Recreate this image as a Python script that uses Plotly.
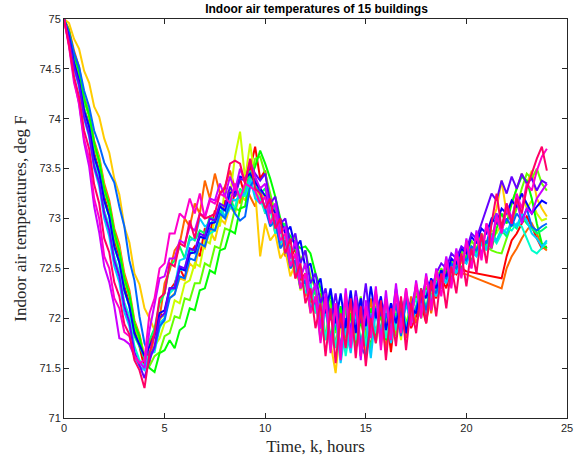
import numpy as np
import plotly.graph_objects as go

# Indoor air temperature (deg F) of each building, sampled every 15 minutes from 0 to 24 h
b01 = [75.00, 74.85, 74.60, 74.42, 74.10, 73.95, 73.66, 73.48, 73.22, 73.05, 72.78, 72.62, 72.32, 72.15, 71.88, 71.72, 71.50,
       71.75, 71.85, 72.05, 72.02, 72.28, 72.35, 72.50, 72.40, 72.65, 72.72, 72.62, 72.90, 72.85, 73.08, 72.95, 73.18, 73.10, 73.25, 73.40, 73.22, 73.50, 73.72,
       73.40, 73.48, 73.15, 73.10, 72.85, 72.92, 72.60, 72.70, 72.38, 72.45, 72.15, 72.30,
       71.85, 72.20, 71.75, 72.05, 71.68, 72.15, 71.80, 72.22, 71.62, 71.95, 71.70, 72.18, 71.78, 72.08, 71.66, 72.12, 71.84, 72.20, 71.90, 72.02, 72.15, 71.95, 72.28, 72.20,
       72.40, 72.30, 72.52, 72.44, 72.50, 72.47, 72.46, 72.45, 72.44, 72.43, 72.42, 72.41, 72.40, 72.62, 72.78, 72.85, 72.95, 73.02, 72.92, 72.80, 72.70, 72.72]
b02 = [75.00, 74.90, 74.68, 74.52, 74.22, 74.06, 73.78, 73.62, 73.35, 73.18, 72.90, 72.74, 72.45, 72.28, 71.98, 71.84, 71.62,
       71.55, 71.85, 72.00, 72.35, 72.48, 72.68, 72.75, 73.00, 72.92, 73.15, 73.05, 73.38, 73.20, 73.45, 73.25, 73.32, 73.48, 73.30, 73.15, 73.35, 73.22, 73.12,
       73.32, 73.05, 73.10, 72.85, 72.92, 72.62, 72.70, 72.40, 72.50, 72.22, 72.35, 72.05,
       72.25, 71.80, 72.12, 71.72, 72.08, 71.85, 72.18, 71.70, 72.02, 71.78, 72.20, 71.82, 72.05, 71.68, 72.15, 71.88, 72.10, 71.80, 72.22, 71.95, 72.10, 72.30, 72.05, 72.35,
       72.30, 72.52, 72.40, 72.48, 72.45, 72.44, 72.42, 72.40, 72.38, 72.36, 72.34, 72.32, 72.30, 72.50, 72.62, 72.70, 72.80, 72.88, 72.95, 72.85, 72.72, 72.68]
b03 = [75.00, 74.96, 74.80, 74.70, 74.48, 74.36, 74.12, 74.02, 73.80, 73.66, 73.40, 73.24, 72.92, 72.76, 72.45, 72.34, 72.10,
       72.00, 71.88, 71.98, 72.05, 72.20, 72.25, 72.40, 72.38, 72.55, 72.50, 72.75, 72.70, 72.88, 72.78, 73.00, 72.95, 73.12, 73.05, 73.25, 73.18, 73.35, 73.28,
       72.62, 72.95, 72.78, 72.85, 72.60, 72.68, 72.42, 72.55, 72.30, 72.38, 72.10, 72.22,
       71.90, 72.15, 71.75, 71.45, 71.95, 71.70, 72.10, 71.80, 72.05, 71.65, 71.92, 72.18, 71.78, 72.00, 71.85, 72.12, 71.92, 72.25, 72.00, 72.30, 72.10, 72.38, 72.25, 72.45,
       72.35, 72.55, 72.48, 72.62, 72.55, 72.72, 72.65, 72.80, 72.75, 72.90, 72.95, 73.10, 73.38, 73.05, 73.15, 73.30, 73.45, 73.35, 73.48, 73.20, 73.10, 73.02]
b04 = [75.00, 74.86, 74.62, 74.48, 74.20, 74.04, 73.75, 73.60, 73.30, 73.14, 72.85, 72.70, 72.40, 72.24, 71.95, 71.82, 71.62,
       71.60, 71.72, 71.80, 71.95, 71.98, 72.18, 72.15, 72.35, 72.38, 72.55, 72.52, 72.78, 72.75, 73.00, 72.92, 73.30, 73.22, 73.62, 73.87, 73.40, 73.75, 73.38,
       73.15, 73.25, 72.95, 73.00, 72.72, 72.80, 72.50, 72.58, 72.28, 72.40, 72.05, 72.18,
       71.82, 72.12, 71.70, 72.05, 71.62, 71.98, 71.75, 72.15, 71.68, 72.02, 71.80, 72.20, 71.72, 72.08, 71.85, 72.12, 71.78, 72.22, 71.95, 72.10, 72.28, 72.05, 72.35, 72.22,
       72.45, 72.38, 72.55, 72.50, 72.65, 72.58, 72.72, 72.68, 72.80, 72.75, 72.88, 72.85, 72.95, 73.05, 73.00, 73.15, 73.25, 73.10, 73.18, 73.05, 72.98, 73.00]
b05 = [75.00, 74.86, 74.62, 74.46, 74.18, 74.02, 73.72, 73.56, 73.28, 73.12, 72.82, 72.66, 72.38, 72.22, 71.92, 71.78, 71.60,
       71.52, 71.62, 71.66, 71.82, 71.85, 72.02, 72.00, 72.20, 72.18, 72.35, 72.35, 72.55, 72.52, 72.72, 72.70, 72.90, 72.88, 73.10, 73.08, 73.32, 73.35, 73.60,
       73.62, 73.45, 73.25, 73.05, 72.90, 72.95, 72.75, 72.82, 72.58, 72.68, 72.42, 72.30,
       72.05, 71.78, 72.18, 71.85, 72.10, 71.72, 72.02, 71.88, 72.22, 71.80, 72.08, 71.75, 72.15, 71.90, 72.02, 71.82, 72.18, 71.95, 72.12, 72.25, 72.05, 72.32, 72.18, 72.40,
       72.50, 72.42, 72.58, 72.52, 72.68, 72.60, 72.78, 72.70, 72.85, 72.72, 72.68, 72.66, 72.65, 72.80, 72.95, 73.10, 73.30, 73.45, 73.40, 73.50, 73.35, 73.28]
b06 = [75.00, 74.88, 74.64, 74.48, 74.20, 74.04, 73.76, 73.58, 73.30, 73.14, 72.86, 72.68, 72.40, 72.24, 71.95, 71.82, 71.58,
       71.50, 71.46, 71.65, 71.68, 71.78, 71.70, 71.88, 71.92, 72.10, 72.08, 72.28, 72.30, 72.48, 72.45, 72.68, 72.70, 72.88, 72.85, 73.10, 73.12, 73.40, 73.52,
       73.68, 73.55, 73.40, 73.22, 73.00, 72.90, 72.82, 72.75, 72.70, 72.72, 72.65, 72.45,
       72.30, 72.05, 72.25, 71.88, 72.12, 71.80, 72.05, 71.70, 71.98, 71.75, 72.10, 71.82, 72.05, 71.78, 72.00, 71.90, 72.15, 71.85, 72.08, 72.22, 72.00, 72.30, 72.15, 72.38,
       72.30, 72.48, 72.40, 72.55, 72.50, 72.62, 72.58, 72.70, 72.65, 72.78, 72.70, 72.90, 73.05, 72.95, 73.15, 73.30, 73.42, 73.38, 73.20, 72.95, 72.75, 72.70]
b07 = [75.00, 74.82, 74.56, 74.38, 74.10, 73.92, 73.62, 73.46, 73.18, 73.02, 72.72, 72.56, 72.28, 72.12, 71.82, 71.72, 71.60,
       71.78, 71.90, 72.15, 72.25, 72.52, 72.58, 72.72, 72.60, 72.82, 72.78, 72.88, 72.85, 73.02, 72.98, 73.08, 73.02, 73.22, 73.08, 73.30, 73.22, 73.48, 73.32,
       73.25, 73.30, 73.05, 73.12, 72.88, 72.95, 72.65, 72.72, 72.42, 72.55, 72.18, 72.28,
       71.95, 72.20, 71.80, 72.08, 71.70, 72.12, 71.85, 72.18, 71.75, 72.00, 71.68, 72.12, 71.88, 72.15, 71.78, 72.05, 71.92, 72.25, 71.98, 72.12, 72.30, 72.10, 72.38, 72.28,
       72.48, 72.40, 72.55, 72.50, 72.62, 72.58, 72.72, 72.65, 72.78, 72.70, 72.85, 72.78, 72.88, 72.82, 72.95, 72.90, 73.02, 72.95, 72.90, 72.85, 72.88, 72.92]
b08 = [75.00, 74.80, 74.52, 74.34, 74.02, 73.86, 73.55, 73.40, 73.08, 72.92, 72.62, 72.46, 72.16, 72.02, 71.72, 71.58, 71.52,
       71.65, 71.66, 71.90, 72.00, 72.25, 72.30, 72.48, 72.50, 72.68, 72.65, 72.82, 72.80, 72.85, 72.88, 73.05, 73.02, 73.10, 73.12, 73.28, 73.22, 73.38, 73.25,
       73.20, 73.05, 73.12, 72.85, 72.92, 72.65, 72.72, 72.45, 72.52, 72.25, 72.35, 72.05,
       72.20, 71.78, 72.10, 71.70, 72.02, 71.62, 71.95, 71.78, 72.10, 71.72, 72.05, 71.85, 72.15, 71.80, 72.08, 71.88, 72.18, 71.92, 72.05, 72.20, 72.12, 72.28, 72.20, 72.35,
       72.45, 72.38, 72.55, 72.48, 72.60, 72.55, 72.70, 72.62, 72.75, 72.68, 72.82, 72.75, 72.85, 72.90, 72.88, 72.95, 72.92, 72.80, 72.68, 72.65, 72.70, 72.76]
b09 = [75.00, 74.78, 74.50, 74.32, 74.00, 73.82, 73.50, 73.32, 73.00, 72.82, 72.52, 72.36, 72.06, 71.92, 71.62, 71.52, 71.48,
       71.62, 71.68, 71.95, 72.00, 72.28, 72.32, 72.58, 72.60, 72.78, 72.80, 73.00, 72.92, 72.95, 72.98, 73.15, 73.00, 73.20, 73.18, 73.22, 73.25, 73.40, 73.20,
       73.15, 73.22, 72.95, 73.02, 72.75, 72.82, 72.55, 72.62, 72.32, 72.40, 72.10, 72.20,
       71.78, 72.10, 71.68, 72.02, 71.55, 71.90, 71.65, 72.05, 71.72, 71.98, 71.60, 72.08, 71.80, 72.12, 71.75, 72.02, 71.85, 72.15, 71.95, 72.08, 72.25, 72.05, 72.30, 72.22,
       72.42, 72.35, 72.52, 72.45, 72.60, 72.55, 72.68, 72.62, 72.75, 72.70, 72.82, 72.78, 72.90, 72.85, 72.98, 72.92, 73.05, 72.98, 72.85, 72.80, 72.72, 72.78]
b10 = [75.00, 74.86, 74.66, 74.52, 74.28, 74.12, 73.88, 73.74, 73.56, 73.46, 73.36, 73.12, 72.92, 72.58, 72.38, 72.02, 71.75,
       71.62, 71.70, 71.92, 71.98, 72.20, 72.24, 72.42, 72.40, 72.60, 72.58, 72.75, 72.72, 72.90, 72.88, 73.05, 73.00, 73.15, 73.05, 72.98, 73.02, 73.32, 73.40,
       73.25, 73.10, 72.92, 72.98, 72.70, 72.78, 72.50, 72.58, 72.30, 72.38, 72.08, 72.18,
       71.90, 72.15, 71.75, 72.05, 71.68, 72.00, 71.80, 72.12, 71.72, 71.62, 71.95, 72.10, 71.78, 72.05, 71.88, 72.15, 71.82, 72.20, 71.98, 72.10, 72.25, 72.08, 72.32, 72.25,
       72.45, 72.40, 72.55, 72.50, 72.62, 72.58, 72.72, 72.68, 72.80, 72.75, 72.95, 73.05, 72.90, 73.00, 72.92, 73.05, 72.98, 73.10, 72.92, 72.88, 72.92, 72.95]
b11 = [75.00, 74.82, 74.56, 74.38, 74.08, 73.92, 73.62, 73.46, 73.18, 73.02, 72.72, 72.56, 72.28, 72.12, 71.85, 71.74, 71.62,
       71.72, 71.82, 72.05, 72.08, 72.30, 72.30, 72.50, 72.48, 72.65, 72.66, 72.82, 72.80, 72.95, 72.96, 73.12, 73.08, 73.26, 73.26, 73.42, 73.40, 73.45, 73.36,
       73.30, 73.22, 73.15, 73.05, 72.98, 72.85, 72.92, 72.70, 72.78, 72.50, 72.55, 72.30,
       72.40, 72.05, 72.30, 71.95, 72.25, 71.90, 72.28, 71.85, 72.20, 71.92, 72.32, 72.00, 72.22, 71.88, 72.15, 71.95, 72.18, 71.85, 72.10, 72.05, 72.28, 72.20, 72.40, 72.30,
       72.48, 72.42, 72.60, 72.55, 72.70, 72.65, 72.82, 72.75, 72.90, 72.85, 73.00, 72.95, 73.10, 73.05, 73.18, 73.12, 73.25, 73.15, 73.05, 73.12, 73.18, 73.15]
b12 = [75.00, 74.80, 74.52, 74.34, 74.02, 73.84, 73.52, 73.36, 73.05, 72.88, 72.58, 72.42, 72.12, 71.96, 71.66, 71.52, 71.40,
       71.58, 71.72, 72.00, 72.05, 72.30, 72.30, 72.52, 72.50, 72.70, 72.68, 72.85, 72.82, 73.00, 72.98, 73.15, 73.12, 73.32, 73.22, 73.40, 73.38, 73.55, 73.45,
       73.38, 73.45, 73.15, 73.22, 72.95, 73.00, 72.75, 72.85, 72.55, 72.68, 72.35, 72.45,
       72.15, 72.30, 71.98, 72.25, 71.90, 72.20, 71.85, 72.28, 71.95, 72.35, 71.92, 72.25, 72.02, 72.18, 71.95, 72.30, 72.00, 72.22, 72.10, 72.32, 72.15, 72.40, 72.28, 72.45,
       72.55, 72.50, 72.65, 72.60, 72.72, 72.68, 72.85, 72.80, 72.95, 73.10, 73.25, 73.18, 73.38, 73.25, 73.42, 73.30, 73.45, 73.35, 73.40, 73.28, 73.38, 73.35]
b13 = [75.00, 74.74, 74.40, 74.14, 73.76, 73.52, 73.12, 72.86, 72.52, 72.36, 72.12, 71.80, 71.78, 71.74, 71.62, 71.56, 71.50,
       71.88, 72.15, 72.40, 72.42, 72.60, 72.60, 72.78, 72.75, 72.92, 72.88, 73.05, 73.02, 73.20, 73.18, 73.35, 73.22, 73.42, 73.28, 73.50, 73.36, 73.58, 73.42,
       73.30, 73.35, 73.05, 73.15, 72.85, 72.92, 72.60, 72.78, 72.40, 72.55, 72.20, 72.35,
       71.90, 72.25, 71.72, 72.15, 71.65, 72.30, 71.80, 72.22, 71.58, 72.18, 71.88, 72.32, 71.75, 72.28, 71.82, 72.35, 71.90, 72.30, 71.95, 72.38, 72.05, 72.45, 72.10, 72.50,
       72.30, 72.62, 72.35, 72.70, 72.42, 72.80, 72.50, 72.88, 72.62, 72.95, 72.75, 73.05, 72.88, 73.15, 73.00, 73.20, 72.95, 73.10, 73.05, 73.20, 73.28, 73.35]
b14 = [75.00, 74.72, 74.36, 74.16, 73.80, 73.60, 73.20, 73.00, 72.62, 72.50, 72.20, 72.10, 71.86, 71.82, 71.62, 71.55, 71.58,
       72.05, 72.20, 72.50, 72.55, 72.85, 72.85, 73.05, 73.00, 73.20, 73.05, 73.25, 73.00, 73.18, 73.15, 73.25, 73.22, 73.15, 73.35, 73.20, 73.35, 73.32, 73.28,
       73.15, 73.22, 72.95, 73.05, 72.78, 72.85, 72.52, 72.65, 72.30, 72.45, 72.05, 72.22,
       71.75, 72.20, 71.65, 72.15, 71.58, 72.25, 71.70, 72.18, 71.62, 72.12, 71.80, 72.28, 71.68, 72.20, 71.78, 72.25, 71.85, 72.30, 71.92, 72.35, 72.00, 72.42, 72.08, 72.48,
       72.22, 72.58, 72.30, 72.65, 72.40, 72.78, 72.50, 72.85, 72.58, 72.95, 72.70, 73.02, 72.85, 73.10, 72.95, 73.25, 73.10, 73.35, 73.28, 73.48, 73.62, 73.70]
b15 = [75.00, 74.74, 74.42, 74.22, 73.88, 73.70, 73.34, 73.15, 72.80, 72.66, 72.36, 72.22, 71.94, 71.84, 71.58, 71.48, 71.30,
       71.65, 71.85, 72.20, 72.25, 72.55, 72.52, 72.75, 72.72, 72.98, 72.80, 73.05, 73.00, 73.02, 73.05, 73.25, 73.30, 73.55, 73.58, 73.55, 73.35, 73.60, 73.30,
       73.25, 73.10, 73.20, 72.90, 73.00, 72.65, 72.80, 72.40, 72.55, 72.15, 72.30, 71.90,
       72.15, 71.62, 72.10, 71.55, 72.05, 71.70, 72.20, 71.60, 72.12, 71.52, 72.00, 71.75, 72.18, 71.58, 72.10, 71.72, 72.22, 71.68, 72.15, 71.85, 72.30, 71.95, 72.38, 72.02,
       72.45, 72.10, 72.52, 72.25, 72.65, 72.32, 72.70, 72.45, 72.85, 72.55, 72.95, 73.25, 72.90, 73.15, 72.95, 73.20, 73.05, 73.30, 73.45, 73.60, 73.72, 73.48]

buildings = [b01, b02, b03, b04, b05, b06, b07, b08, b09, b10, b11, b12, b13, b14, b15]

# hsv(15) line colours, one hue step of 24 degrees per building
colors = ["#ff0000", "#ff6600", "#ffcc00", "#ccff00", "#66ff00", "#00ff00", "#00ff66", "#00ffcc",
          "#00ccff", "#0066ff", "#0000ff", "#6600ff", "#cc00ff", "#ff00cc", "#ff0066"]

x_ticks = [0, 5, 10, 15, 20, 25]
y_ticks = [71, 71.5, 72, 72.5, 73, 73.5, 74, 74.5, 75]

step_h = 0.25
fig = go.Figure()
for i, (vals, col) in enumerate(zip(buildings, colors)):
    if len(vals) != 97:
        raise ValueError(f"building {i + 1} has {len(vals)} samples")
    hours = np.arange(len(vals)) * step_h
    fig.add_trace(go.Scatter(x=hours, y=vals, mode="lines",
                             line=dict(color=col, width=2), name=f"Building {i + 1}",
                             showlegend=False))

axis_col = "#262626"
common = dict(showline=True, linecolor=axis_col, linewidth=1, mirror="allticks",
              ticks="inside", ticklen=5, tickcolor=axis_col, showgrid=False, zeroline=False,
              tickfont=dict(family="Liberation Sans, Arial, sans-serif", size=11, color=axis_col))

left, right, top, bottom = 64, 16, 19, 46
fig.update_layout(
    width=585, height=464,
    margin=dict(l=left, r=right, t=top, b=bottom),
    paper_bgcolor="white", plot_bgcolor="white",
    title=dict(text="<b>Indoor air temperatures of 15 buildings</b>",
               font=dict(family="Liberation Sans, Arial, sans-serif", size=12, color="black"),
               x=(left + (585 - left - right) / 2) / 585, xanchor="center",
               y=1 - 9 / 464, yanchor="middle", yref="container"),
    xaxis=dict(range=[0, 25], tickvals=x_ticks,
               title=dict(text="Time, k, hours", standoff=6,
                          font=dict(family="Liberation Serif, Times New Roman, serif", size=17, color=axis_col)),
               **common),
    yaxis=dict(range=[71, 75], tickvals=y_ticks, ticktext=[f"{v:g}" for v in y_ticks],
               title=dict(text="Indoor air temperatures, deg F", standoff=8,
                          font=dict(family="Liberation Serif, Times New Roman, serif", size=17, color=axis_col)),
               **common),
)

fig.write_html("out.html")
